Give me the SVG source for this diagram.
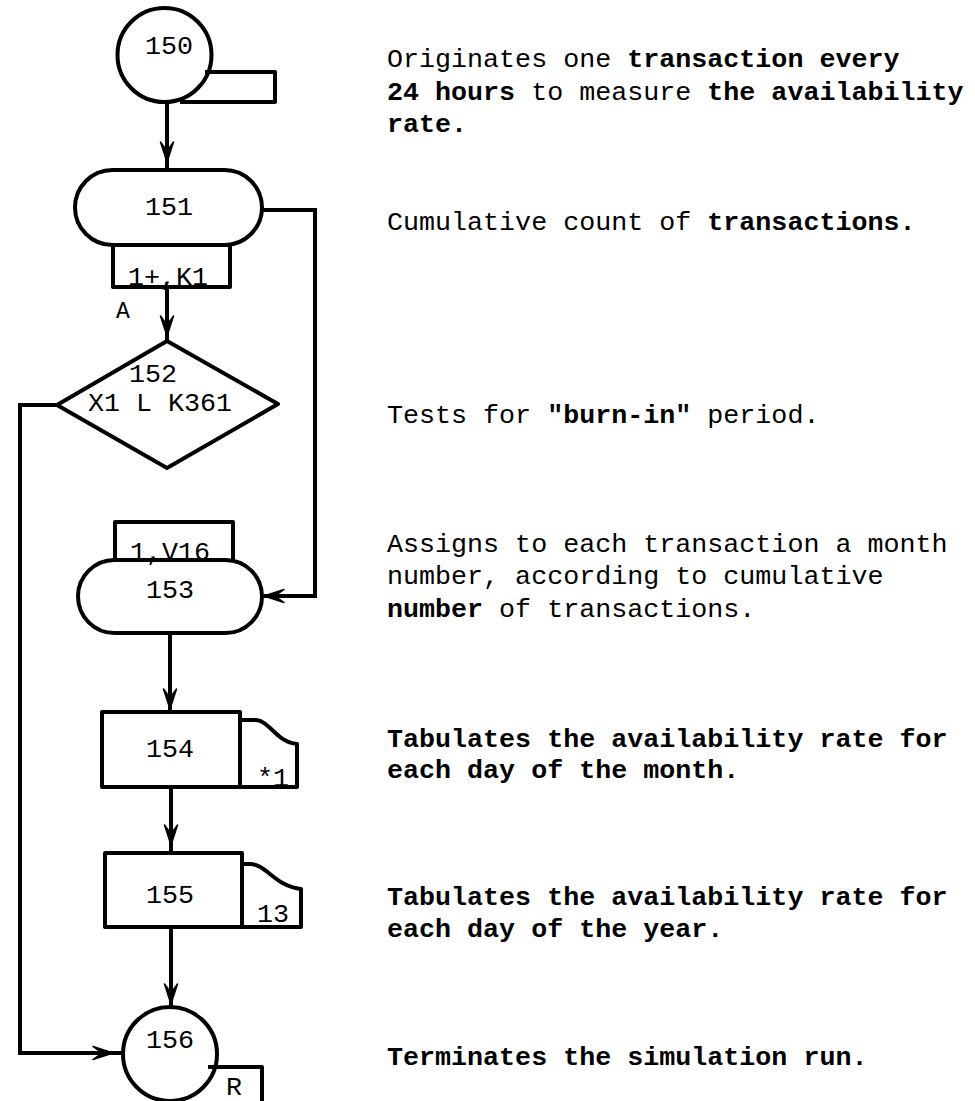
<svg xmlns="http://www.w3.org/2000/svg" xmlns:xlink="http://www.w3.org/1999/xlink" width="975" height="1101" viewBox="0 0 975 1101">
  <style>
    .shape { fill: none; stroke: #000; stroke-width: 4; stroke-linejoin: round; }
    .line { fill: none; stroke: #000; stroke-width: 4; }
    .barb { fill: #000; stroke: #000; stroke-width: 1.5; stroke-linejoin: round; }
    text { font-family: "Liberation Mono", "DejaVu Sans Mono", monospace; font-size: 26.7px; fill: #000; white-space: pre; }
    .lbl { text-anchor: middle; }
    .b { font-weight: bold; }
    .small { font-size: 23px; }
  </style>
  <defs>
    <!-- arrow barb pointing down, apex at the origin -->
    <path id="barb" class="barb" d="M0,0 L-6.5,-20 L0,-11 L6.5,-20 Z"/>
  </defs>

  <rect width="975" height="1101" fill="#fff"/>

  <!-- connectors -->
  <g id="connectors">
    <!-- 150 -> 151 -->
    <line class="line" x1="167" y1="102" x2="167" y2="171"/>
    <use xlink:href="#barb" transform="translate(167,162)"/>
    <!-- 151 -> 152 -->
    <line class="line" x1="167" y1="287" x2="167" y2="341"/>
    <use xlink:href="#barb" transform="translate(167,336)"/>
    <!-- 151 bypass -> 153 -->
    <polyline class="line" points="262,210 315,210 315,596 264,596"/>
    <use xlink:href="#barb" transform="translate(264,596) rotate(90)"/>
    <!-- 152 exit -> 156 -->
    <polyline class="line" points="57,405 20,405 20,1053 123,1053"/>
    <use xlink:href="#barb" transform="translate(113,1053) rotate(-90)"/>
    <!-- 153 -> 154 -->
    <line class="line" x1="170" y1="633" x2="170" y2="712"/>
    <use xlink:href="#barb" transform="translate(170,709)"/>
    <!-- 154 -> 155 -->
    <line class="line" x1="171" y1="787" x2="171" y2="853"/>
    <use xlink:href="#barb" transform="translate(171,845)"/>
    <!-- 155 -> 156 -->
    <line class="line" x1="171" y1="927" x2="171" y2="1007"/>
    <use xlink:href="#barb" transform="translate(171,1004)"/>
  </g>

  <!-- GENERATE -->
  <g id="node-150">
    <path class="shape" d="M205,72 H275 V102 H180"/>
    <circle class="shape" cx="164.5" cy="55" r="47"/>
    <text class="lbl" x="169" y="54">150</text>
  </g>

  <!-- SAVEVALUE -->
  <g id="node-151">
    <rect class="shape" x="75" y="170" width="187" height="75" rx="37.5" ry="37.5"/>
    <rect class="shape" x="113" y="245" width="117" height="42"/>
    <text class="lbl" x="169" y="215">151</text>
    <text class="lbl" x="168" y="285">1+,K1</text>
    <text class="small" x="116" y="318">A</text>
  </g>

  <!-- TEST -->
  <g id="node-152">
    <text class="lbl" x="153" y="382">152</text>
    <text x="88" y="411">X1 L K361</text>
    <polygon class="shape" points="167,341 278,404 167,468 57,405"/>
  </g>

  <!-- ASSIGN -->
  <g id="node-153">
    <path class="shape" d="M115,560 V522 H233 V560"/>
    <text class="lbl" x="170" y="560">1,V16</text>
    <rect class="shape" x="78" y="560" width="184" height="73" rx="36.5" ry="36.5"/>
    <text class="lbl" x="170" y="598">153</text>
  </g>

  <!-- TABULATE (month) -->
  <g id="node-154">
    <rect class="shape" x="102" y="712" width="138" height="75"/>
    <path class="shape" d="M240,720 H256 C270,721 276,742 297,744 V787 H240"/>
    <text class="lbl" x="170" y="757">154</text>
    <text x="257" y="786">*1</text>
  </g>

  <!-- TABULATE (year) -->
  <g id="node-155">
    <rect class="shape" x="105" y="853" width="137" height="74"/>
    <path class="shape" d="M242,864 H250 C266,864 276,887 301,889 V927 H242"/>
    <text class="lbl" x="170" y="903">155</text>
    <text x="257" y="922">13</text>
  </g>

  <!-- TERMINATE -->
  <g id="node-156">
    <path class="shape" d="M208,1067 H262 V1103"/>
    <circle class="shape" cx="170" cy="1054" r="47"/>
    <text class="lbl" x="170" y="1048">156</text>
    <text x="226" y="1095">R</text>
  </g>

  <!-- block commentary -->
  <g id="notes">
    <text x="387" y="67">Originates one <tspan class="b">transaction every</tspan></text>
    <text x="387" y="100"><tspan class="b">24 hours</tspan> to measure <tspan class="b">the availability</tspan></text>
    <text x="387" y="132" class="b">rate.</text>

    <text x="387" y="230">Cumulative count of <tspan class="b">transactions.</tspan></text>

    <text x="387" y="423">Tests for <tspan class="b">"burn-in"</tspan> period.</text>

    <text x="387" y="552">Assigns to each transaction a month</text>
    <text x="387" y="584">number, according to cumulative</text>
    <text x="387" y="617"><tspan class="b">number</tspan> of transactions.</text>

    <text x="387" y="747" class="b">Tabulates the availability rate for</text>
    <text x="387" y="778" class="b">each day of the month.</text>

    <text x="387" y="905" class="b">Tabulates the availability rate for</text>
    <text x="387" y="937" class="b">each day of the year.</text>

    <text x="387" y="1065" class="b">Terminates the simulation run.</text>
  </g>
</svg>
